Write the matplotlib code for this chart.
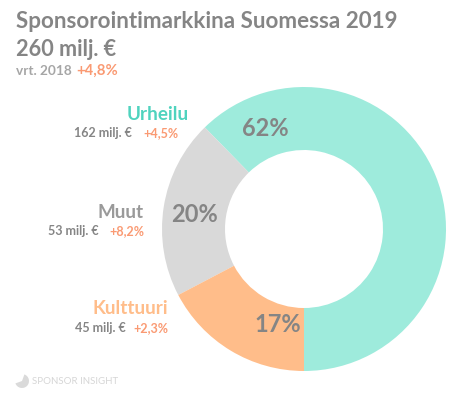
import matplotlib
matplotlib.use("Agg")
import matplotlib.pyplot as plt
from matplotlib.patches import Wedge

plt.rcParams['font.family'] = ['Lato', 'DejaVu Sans']

# Market size by segment, milj. EUR
segments = ["Urheilu", "Muut", "Kulttuuri"]
values = [162, 53, 45]
pct_labels = ["62%", "20%", "17%"]
money_labels = ["162 milj. €", "53 milj. €", "45 milj. €"]
change_labels = ["+4,5%", "+8,2%", "+2,3%"]
colors = ["#9EEBDC", "#D9D9D9", "#FFBD8A"]
name_colors = ["#4FD3BE", "#9A9A9A", "#FFBD8A"]

GREY = "#858585"
ORANGE = "#FA9A73"

W, H = 462, 395
fig = plt.figure(figsize=(W / 100, H / 100), dpi=100)
ax = fig.add_axes([0, 0, 1, 1])


def yy(y):
    # y measured from the top of the image
    return H - y


ax.pie(values, colors=colors, startangle=270, radius=142, center=(304, yy(229)),
       frame=True, wedgeprops=dict(width=142 - 79, linewidth=0))
ax.set_xlim(0, W)
ax.set_ylim(0, H)
ax.set_aspect("auto")
ax.axis("off")

# title block
ax.text(16, yy(22), "Sponsorointimarkkina Suomessa 2019", fontsize=16.1, fontweight="bold",
        color=GREY, va="center", ha="left")
ax.text(16, yy(49), "260 milj. €", fontsize=15.6, fontweight="bold", color=GREY, va="center", ha="left")
ax.text(16, yy(71), "vrt. 2018", fontsize=9.8, fontweight="bold", color="#A6A6A6", va="center", ha="left")
ax.text(76, yy(71), "+4,8%", fontsize=10.7, fontweight="bold", color=ORANGE, va="center", ha="left")

# segment labels
name_x = [189, 144, 168]
name_y = [115, 212, 309]
sub_y = [133, 231, 328]
money_x = [132, 99, 126]
for i in range(3):
    ax.text(name_x[i], yy(name_y[i]), segments[i], fontsize=13.6, fontweight="bold",
            color=name_colors[i], va="center", ha="right")
    ax.text(money_x[i], yy(sub_y[i]), money_labels[i], fontsize=9, fontweight="bold",
            color=GREY, va="center", ha="right")
    ax.text(name_x[i] - (0 if i else 11), yy(sub_y[i]), change_labels[i], fontsize=9, fontweight="bold",
            color=ORANGE, va="center", ha="right")

# percentages on the ring
pct_x = [265, 195, 278]
pct_y = [128, 214, 325]
for i in range(3):
    ax.text(pct_x[i], yy(pct_y[i]), pct_labels[i], fontsize=17, fontweight="bold",
            color=GREY, va="center", ha="center")

# logo
ax.add_patch(Wedge((22, yy(381)), 7, 200, 70, facecolor="#DADADA", linewidth=0))
ax.text(32, yy(381), "SPONSOR INSIGHT", fontsize=7, fontweight="normal", color="#D6D6D6",
        va="center", ha="left")

fig.savefig("out.png", dpi=100)
